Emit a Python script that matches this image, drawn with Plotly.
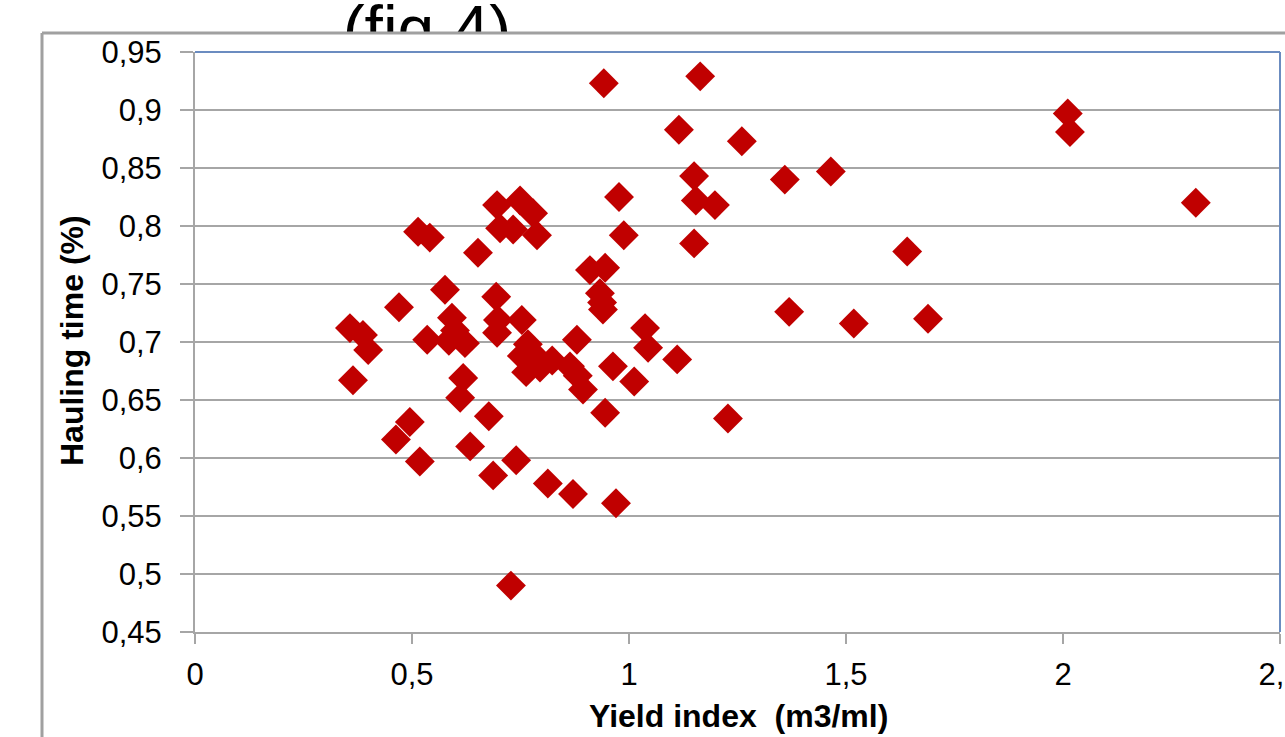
import plotly.graph_objects as go

# Yield index (m3/ml) vs hauling time share, one point per site
yield_index = [
    0.942, 1.164, 2.011, 2.016, 1.115, 1.260, 2.306, 1.150, 1.465, 1.359,
    1.154, 1.198, 0.977, 1.150, 0.988, 1.641, 1.369, 1.518, 1.689, 1.111,
    1.228, 1.012, 0.963, 1.037, 1.044, 0.970, 0.910, 0.945, 0.933, 0.938,
    0.940, 0.880, 0.894, 0.945, 0.813, 0.871, 0.740, 0.364, 0.618, 0.611,
    0.677, 0.495, 0.463, 0.518, 0.634, 0.687, 0.728, 0.514, 0.541, 0.652,
    0.696, 0.749, 0.779, 0.703, 0.733, 0.788, 0.576, 0.694, 0.470, 0.357,
    0.387, 0.399, 0.535, 0.592, 0.599, 0.585, 0.622, 0.698, 0.753, 0.696,
    0.767, 0.753, 0.763, 0.795, 0.823, 0.864, 0.882, 0.781,
]
hauling_time = [
    0.923, 0.929, 0.897, 0.881, 0.883, 0.873, 0.820, 0.843, 0.847, 0.840,
    0.822, 0.818, 0.825, 0.785, 0.792, 0.778, 0.726, 0.716, 0.720, 0.685,
    0.634, 0.666, 0.679, 0.712, 0.695, 0.561, 0.762, 0.764, 0.742, 0.734,
    0.728, 0.702, 0.659, 0.639, 0.578, 0.569, 0.598, 0.667, 0.669, 0.652,
    0.636, 0.631, 0.616, 0.597, 0.610, 0.585, 0.490, 0.795, 0.790, 0.777,
    0.818, 0.822, 0.811, 0.798, 0.797, 0.792, 0.745, 0.739, 0.730, 0.712,
    0.706, 0.693, 0.702, 0.721, 0.710, 0.701, 0.699, 0.719, 0.719, 0.708,
    0.698, 0.688, 0.674, 0.678, 0.684, 0.679, 0.671, 0.689,
]

x_ticks = [0, 0.5, 1, 1.5, 2, 2.5]
x_tick_labels = ["0", "0,5", "1", "1,5", "2", "2,5"]
y_ticks = [0.45, 0.5, 0.55, 0.6, 0.65, 0.7, 0.75, 0.8, 0.85, 0.9, 0.95]
y_tick_labels = ["0,45", "0,5", "0,55", "0,6", "0,65", "0,7",
                 "0,75", "0,8", "0,85", "0,9", "0,95"]

W, H = 1285, 737
FONT = "Liberation Sans, Arial, sans-serif"
GRID = "#a6a6a6"
FRAME = "#a0a0a0"
BORDER = "#6b8cc0"


def fx(p):
    return p / W


def fy(p):
    return 1 - p / H


plot_left, plot_right, plot_top, plot_bottom = 195, 1280, 52, 632
frame_left, frame_top = 42, 33

fig = go.Figure()

fig.add_trace(go.Scatter(
    x=yield_index, y=hauling_time, mode="markers",
    marker=dict(symbol="diamond", size=23, color="#C00000", line=dict(width=0)),
    showlegend=False, hoverinfo="x+y",
))

# Heading above the frame; the chart frame hides its lower half
fig.add_trace(go.Scatter(
    x=[427], y=[35], mode="text", text=["(fig.4)"],
    textposition="middle center",
    textfont=dict(family=FONT, size=66, color="#000000"),
    cliponaxis=True, showlegend=False, hoverinfo="skip",
    xaxis="x2", yaxis="y2",
))

fig.update_layout(
    width=W, height=H,
    margin=dict(l=0, r=0, t=0, b=0, pad=0, autoexpand=False),
    paper_bgcolor="white", plot_bgcolor="white",
    font=dict(family=FONT, color="#000000"),
    xaxis=dict(
        domain=[fx(plot_left), fx(plot_right)], range=[0, 2.5],
        tickvals=x_ticks, ticktext=x_tick_labels,
        tickfont=dict(size=31), ticklabeloverflow="allow",
        showgrid=False, zeroline=False, automargin=False,
        showline=True, linecolor=GRID, linewidth=2,
        ticks="outside", ticklen=10, tickwidth=2, tickcolor=GRID,
        ticklabelstandoff=4,
    ),
    yaxis=dict(
        domain=[fy(plot_bottom), fy(plot_top)], range=[0.45, 0.95],
        tickvals=y_ticks, ticktext=y_tick_labels,
        tickfont=dict(size=31), automargin=False,
        showgrid=True, gridcolor=GRID, gridwidth=2, zeroline=False,
        showline=True, linecolor=GRID, linewidth=2,
        ticks="outside", ticklen=13, tickwidth=2, tickcolor=GRID,
        ticklabelstandoff=12,
    ),
    xaxis2=dict(domain=[0, 1], range=[0, W], visible=False, anchor="y2",
                automargin=False),
    yaxis2=dict(domain=[fy(frame_top), 1], range=[frame_top, 0],
                visible=False, anchor="x2", automargin=False),
    shapes=[
        # outer chart frame
        dict(type="line", xref="paper", yref="paper",
             x0=fx(frame_left), x1=1.01, y0=fy(frame_top), y1=fy(frame_top),
             line=dict(color=FRAME, width=3)),
        dict(type="line", xref="paper", yref="paper",
             x0=fx(frame_left), x1=fx(frame_left), y0=fy(frame_top), y1=-0.01,
             line=dict(color=FRAME, width=3)),
        # plot area border, top and right
        dict(type="line", xref="paper", yref="paper",
             x0=fx(plot_left), x1=fx(plot_right), y0=fy(plot_top), y1=fy(plot_top),
             line=dict(color=BORDER, width=2)),
        dict(type="line", xref="paper", yref="paper",
             x0=fx(plot_right), x1=fx(plot_right), y0=fy(plot_top), y1=fy(plot_bottom),
             line=dict(color=BORDER, width=2)),
    ],
    annotations=[
        dict(text="<b>Hauling time (%)</b>", xref="paper", yref="paper",
             x=fx(72), y=fy(341), xanchor="center", yanchor="middle",
             textangle=-90, showarrow=False, font=dict(size=32)),
        dict(text="<b>Yield index \u00a0(m3/ml)</b>", xref="paper", yref="paper",
             x=fx(738), y=fy(716), xanchor="center", yanchor="middle",
             showarrow=False, font=dict(size=32)),
    ],
)

fig.write_html("out.html")
